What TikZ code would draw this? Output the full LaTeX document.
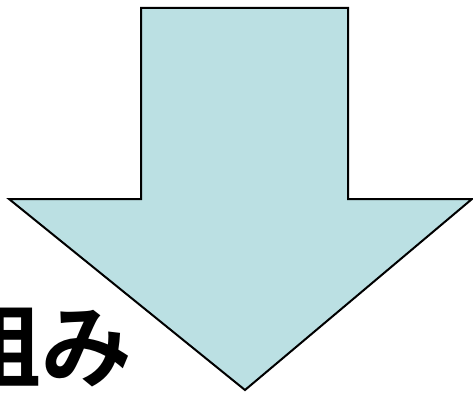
\documentclass[tikz,border=0pt]{standalone}
\usepackage{fontspec}
\newfontfamily\jpfont{Noto Sans CJK JP}[BoldFont={* Bold}]
\usetikzlibrary{positioning}
\definecolor{arrowblue}{RGB}{187,224,227}

\begin{document}
\begin{tikzpicture}[x=0.75pt, y=-0.75pt, every node/.style={inner sep=0pt}]
    \useasboundingbox (0,0) rectangle (473,392);

    % big arrow pointing down
    \draw[line width=1.5pt, fill=arrowblue, line join=miter]
      (141,8) -- (348,8) -- (348,199) -- (472,199) -- (245,390)
      -- (9,199) -- (141,199) -- cycle;

    \node[anchor=east, font=\jpfont\bfseries\fontsize{68}{68}\selectfont] (label) at (132,346) {組み};
  \end{tikzpicture}
\end{document}
